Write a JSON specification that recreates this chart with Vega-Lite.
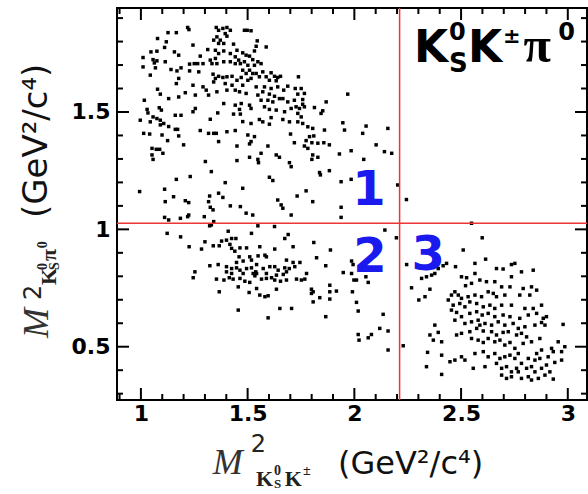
{
"$schema": "https://vega.github.io/schema/vega-lite/v6.json",
"width": 470, "height": 392,
"autosize": "none",
"padding": {"left": 117, "top": 8, "right": 1, "bottom": 94},
"background": "white",
"config": {"view": {"stroke": "black", "strokeWidth": 2}},
"resolve": {"axis": {"x": "independent", "y": "independent"}},
"datasets": {
"xmaj": [{"v":1},{"v":1.5},{"v":2},{"v":2.5},{"v":3}],
"xmin": [{"v":0.9},{"v":1.1},{"v":1.2},{"v":1.3},{"v":1.4},{"v":1.6},{"v":1.7},{"v":1.8},{"v":1.9},{"v":2.1},{"v":2.2},{"v":2.3},{"v":2.4},{"v":2.6},{"v":2.7},{"v":2.8},{"v":2.9}],
"ymaj": [{"v":0.5},{"v":1},{"v":1.5}],
"ymin": [{"v":0.3},{"v":0.4},{"v":0.6},{"v":0.7},{"v":0.8},{"v":0.9},{"v":1.1},{"v":1.2},{"v":1.3},{"v":1.4},{"v":1.6},{"v":1.7},{"v":1.8},{"v":1.9}],
"pts": [
{"x":1.219,"y":1.860},{"x":1.225,"y":1.851},{"x":1.127,"y":1.838},{"x":1.166,"y":1.838},{"x":1.353,"y":1.860},{"x":1.364,"y":1.848},{"x":1.384,"y":1.856},{"x":1.403,"y":1.860},{"x":1.419,"y":1.848},{"x":1.395,"y":1.834},{"x":1.356,"y":1.820},{"x":1.341,"y":1.806},{"x":1.372,"y":1.806},{"x":1.388,"y":1.792},{"x":1.364,"y":1.792},{"x":1.403,"y":1.823},{"x":1.078,"y":1.813},{"x":1.119,"y":1.799},{"x":1.244,"y":1.785},{"x":1.111,"y":1.775},{"x":1.434,"y":1.789},{"x":1.450,"y":1.763},{"x":1.313,"y":1.766},{"x":1.349,"y":1.763},{"x":1.364,"y":1.749},{"x":1.388,"y":1.760},{"x":1.419,"y":1.749},{"x":1.442,"y":1.735},{"x":1.458,"y":1.721},{"x":1.047,"y":1.756},{"x":1.075,"y":1.759},{"x":1.157,"y":1.756},{"x":1.177,"y":1.742},{"x":1.010,"y":1.732},{"x":1.057,"y":1.723},{"x":1.075,"y":1.718},{"x":1.063,"y":1.709},{"x":1.114,"y":1.714},{"x":1.278,"y":1.738},{"x":1.325,"y":1.721},{"x":1.349,"y":1.728},{"x":1.356,"y":1.706},{"x":1.333,"y":1.706},{"x":1.388,"y":1.714},{"x":1.419,"y":1.714},{"x":1.442,"y":1.706},{"x":1.466,"y":1.706},{"x":1.010,"y":1.692},{"x":1.068,"y":1.688},{"x":1.141,"y":1.681},{"x":1.169,"y":1.675},{"x":1.188,"y":1.688},{"x":1.228,"y":1.704},{"x":1.250,"y":1.706},{"x":1.266,"y":1.706},{"x":1.291,"y":1.706},{"x":1.228,"y":1.675},{"x":1.271,"y":1.671},{"x":1.044,"y":1.657},{"x":1.177,"y":1.643},{"x":1.338,"y":1.661},{"x":1.349,"y":1.643},{"x":1.364,"y":1.652},{"x":1.384,"y":1.647},{"x":1.403,"y":1.650},{"x":1.427,"y":1.652},{"x":1.450,"y":1.635},{"x":1.341,"y":1.628},{"x":1.395,"y":1.621},{"x":1.427,"y":1.614},{"x":1.166,"y":1.621},{"x":1.244,"y":1.614},{"x":1.291,"y":1.607},{"x":1.306,"y":1.593},{"x":1.317,"y":1.572},{"x":1.356,"y":1.586},{"x":1.403,"y":1.593},{"x":1.442,"y":1.593},{"x":1.078,"y":1.597},{"x":1.091,"y":1.576},{"x":1.130,"y":1.557},{"x":1.177,"y":1.564},{"x":1.208,"y":1.582},{"x":1.255,"y":1.572},{"x":1.016,"y":1.550},{"x":1.388,"y":1.536},{"x":1.442,"y":1.529},{"x":1.029,"y":1.511},{"x":1.033,"y":1.496},{"x":1.086,"y":1.518},{"x":1.096,"y":1.508},{"x":1.255,"y":1.515},{"x":1.244,"y":1.501},{"x":1.360,"y":1.496},{"x":1.434,"y":1.491},{"x":1.466,"y":1.491},{"x":1.057,"y":1.479},{"x":1.075,"y":1.472},{"x":1.091,"y":1.465},{"x":1.161,"y":1.486},{"x":1.188,"y":1.486},{"x":1.325,"y":1.469},{"x":0.997,"y":1.465},{"x":1.044,"y":1.458},
{"x":1.485,"y":1.848},{"x":1.498,"y":1.848},{"x":1.516,"y":1.846},{"x":1.545,"y":1.803},{"x":1.540,"y":1.780},{"x":1.532,"y":1.760},{"x":1.587,"y":1.777},{"x":1.477,"y":1.752},{"x":1.493,"y":1.742},{"x":1.509,"y":1.738},{"x":1.524,"y":1.723},{"x":1.485,"y":1.714},{"x":1.548,"y":1.714},{"x":1.501,"y":1.699},{"x":1.532,"y":1.699},{"x":1.563,"y":1.706},{"x":1.477,"y":1.678},{"x":1.509,"y":1.678},{"x":1.524,"y":1.664},{"x":1.493,"y":1.664},{"x":1.540,"y":1.664},{"x":1.571,"y":1.671},{"x":1.610,"y":1.667},{"x":1.470,"y":1.647},{"x":1.516,"y":1.643},{"x":1.555,"y":1.650},{"x":1.587,"y":1.650},{"x":1.626,"y":1.652},{"x":1.654,"y":1.652},{"x":1.501,"y":1.635},{"x":1.602,"y":1.635},{"x":1.634,"y":1.633},{"x":1.641,"y":1.647},{"x":1.738,"y":1.650},{"x":1.477,"y":1.614},{"x":1.540,"y":1.607},{"x":1.579,"y":1.607},{"x":1.610,"y":1.600},{"x":1.641,"y":1.607},{"x":1.669,"y":1.593},{"x":1.688,"y":1.610},{"x":1.723,"y":1.600},{"x":1.751,"y":1.600},{"x":1.766,"y":1.579},{"x":1.735,"y":1.576},{"x":1.462,"y":1.586},{"x":1.493,"y":1.579},{"x":1.548,"y":1.572},{"x":1.571,"y":1.586},{"x":1.602,"y":1.576},{"x":1.626,"y":1.567},{"x":1.649,"y":1.557},{"x":1.563,"y":1.550},{"x":1.595,"y":1.550},{"x":1.618,"y":1.543},{"x":1.665,"y":1.557},{"x":1.688,"y":1.543},{"x":1.719,"y":1.550},{"x":1.758,"y":1.553},{"x":1.758,"y":1.533},{"x":1.727,"y":1.522},{"x":1.743,"y":1.515},{"x":1.766,"y":1.522},{"x":1.813,"y":1.519},{"x":1.868,"y":1.543},{"x":1.969,"y":1.576},{"x":1.470,"y":1.536},{"x":1.509,"y":1.529},{"x":1.462,"y":1.511},{"x":1.516,"y":1.515},{"x":1.579,"y":1.522},{"x":1.602,"y":1.511},{"x":1.634,"y":1.508},{"x":1.673,"y":1.501},{"x":1.704,"y":1.515},{"x":1.735,"y":1.494},{"x":1.844,"y":1.494},{"x":1.852,"y":1.505},{"x":1.751,"y":1.479},{"x":1.555,"y":1.468},{"x":1.571,"y":1.458},{"x":1.610,"y":1.476},{"x":1.665,"y":1.468},{"x":1.696,"y":1.458},{"x":1.735,"y":1.458},{"x":1.946,"y":1.454},{"x":1.516,"y":1.451},
{"x":1.091,"y":1.445},{"x":1.107,"y":1.451},{"x":1.130,"y":1.438},{"x":1.161,"y":1.426},{"x":1.172,"y":1.426},{"x":1.278,"y":1.421},{"x":1.317,"y":1.409},{"x":1.341,"y":1.409},{"x":1.353,"y":1.409},{"x":1.403,"y":1.416},{"x":1.442,"y":1.421},{"x":1.013,"y":1.409},{"x":1.041,"y":1.406},{"x":1.099,"y":1.402},{"x":1.177,"y":1.398},{"x":1.125,"y":1.378},{"x":1.200,"y":1.360},{"x":1.364,"y":1.374},{"x":1.450,"y":1.355},{"x":1.052,"y":1.345},{"x":1.072,"y":1.341},{"x":1.088,"y":1.341},{"x":1.052,"y":1.317},{"x":1.057,"y":1.298},{"x":1.103,"y":1.324},{"x":1.302,"y":1.289},{"x":1.450,"y":1.293},{"x":1.330,"y":1.246},{"x":1.231,"y":1.225},{"x":1.166,"y":1.213},{"x":1.395,"y":1.199},{"x":0.994,"y":1.161},{"x":1.111,"y":1.171},{"x":1.364,"y":1.154},{"x":1.384,"y":1.136},{"x":1.322,"y":1.142},{"x":1.153,"y":1.139},{"x":1.114,"y":1.118},{"x":1.208,"y":1.122},{"x":1.224,"y":1.114},{"x":1.317,"y":1.118},{"x":1.325,"y":1.094},{"x":1.338,"y":1.083},{"x":1.419,"y":1.100},{"x":1.466,"y":1.097},{"x":1.224,"y":1.061},{"x":1.219,"y":1.054},{"x":1.185,"y":1.047},{"x":1.297,"y":1.054},{"x":1.111,"y":1.051},{"x":1.130,"y":1.040},{"x":1.341,"y":1.033},{"x":1.330,"y":1.019},{"x":1.322,"y":1.015},
{"x":1.477,"y":1.459},{"x":1.602,"y":1.448},{"x":1.758,"y":1.451},{"x":1.782,"y":1.437},{"x":1.805,"y":1.430},{"x":1.860,"y":1.423},{"x":2.055,"y":1.440},{"x":2.157,"y":1.430},{"x":1.954,"y":1.423},{"x":1.501,"y":1.402},{"x":1.532,"y":1.395},{"x":1.516,"y":1.374},{"x":1.509,"y":1.364},{"x":1.595,"y":1.355},{"x":1.701,"y":1.406},{"x":1.719,"y":1.369},{"x":1.774,"y":1.378},{"x":1.790,"y":1.395},{"x":1.810,"y":1.398},{"x":1.801,"y":1.369},{"x":1.766,"y":1.355},{"x":1.782,"y":1.345},{"x":1.829,"y":1.367},{"x":1.857,"y":1.369},{"x":1.883,"y":1.360},{"x":2.039,"y":1.409},{"x":2.102,"y":1.360},{"x":1.985,"y":1.335},{"x":2.141,"y":1.331},{"x":2.175,"y":1.324},{"x":1.563,"y":1.324},{"x":1.509,"y":1.307},{"x":1.548,"y":1.298},{"x":1.551,"y":1.284},{"x":1.634,"y":1.317},{"x":1.649,"y":1.307},{"x":1.696,"y":1.284},{"x":1.704,"y":1.267},{"x":1.805,"y":1.317},{"x":1.801,"y":1.298},{"x":1.829,"y":1.307},{"x":1.930,"y":1.321},{"x":2.044,"y":1.298},{"x":1.837,"y":1.242},{"x":1.841,"y":1.232},{"x":1.883,"y":1.250},{"x":1.602,"y":1.222},{"x":1.618,"y":1.208},{"x":1.477,"y":1.175},{"x":1.774,"y":1.164},{"x":1.732,"y":1.142},{"x":1.805,"y":1.118},{"x":1.641,"y":1.125},{"x":1.657,"y":1.104},{"x":1.665,"y":1.090},{"x":1.938,"y":1.203},{"x":1.985,"y":1.213},{"x":1.493,"y":1.069},{"x":1.524,"y":1.061},{"x":1.704,"y":1.061},{"x":1.938,"y":1.094},{"x":1.938,"y":1.051},{"x":1.626,"y":1.012},{"x":1.548,"y":1.015},{"x":2.203,"y":1.189},{"x":2.244,"y":1.127},
{"x":1.123,"y":0.983},{"x":1.186,"y":0.968},{"x":1.409,"y":0.992},{"x":1.518,"y":0.983},{"x":1.690,"y":0.978},{"x":1.674,"y":0.961},{"x":2.143,"y":0.997},{"x":2.197,"y":0.964},{"x":1.226,"y":0.926},{"x":1.284,"y":0.916},{"x":1.300,"y":0.947},{"x":1.339,"y":0.930},{"x":1.367,"y":0.930},{"x":1.378,"y":0.950},{"x":1.401,"y":0.954},{"x":1.425,"y":0.961},{"x":1.445,"y":0.961},{"x":1.417,"y":0.936},{"x":1.425,"y":0.919},{"x":1.440,"y":0.907},{"x":1.464,"y":0.921},{"x":1.495,"y":0.921},{"x":1.557,"y":0.926},{"x":1.627,"y":0.916},{"x":1.713,"y":0.926},{"x":1.810,"y":0.944},{"x":1.888,"y":0.912},{"x":1.460,"y":0.883},{"x":1.510,"y":0.883},{"x":1.549,"y":0.887},{"x":1.581,"y":0.890},{"x":1.588,"y":0.883},{"x":1.479,"y":0.865},{"x":1.518,"y":0.869},{"x":1.542,"y":0.850},{"x":1.448,"y":0.859},{"x":1.682,"y":0.869},{"x":1.713,"y":0.859},{"x":1.745,"y":0.859},{"x":1.823,"y":0.879},{"x":1.987,"y":0.865},{"x":1.994,"y":0.850},{"x":1.323,"y":0.845},{"x":1.362,"y":0.850},{"x":1.401,"y":0.841},{"x":1.425,"y":0.833},{"x":1.448,"y":0.836},{"x":1.464,"y":0.826},{"x":1.495,"y":0.833},{"x":1.518,"y":0.836},{"x":1.538,"y":0.819},{"x":1.573,"y":0.833},{"x":1.604,"y":0.841},{"x":1.627,"y":0.841},{"x":1.643,"y":0.826},{"x":1.674,"y":0.836},{"x":1.695,"y":0.833},{"x":1.721,"y":0.841},{"x":1.401,"y":0.819},{"x":1.425,"y":0.812},{"x":1.479,"y":0.812},{"x":1.526,"y":0.812},{"x":1.542,"y":0.812},{"x":1.588,"y":0.812},{"x":1.612,"y":0.794},{"x":1.635,"y":0.805},{"x":1.667,"y":0.808},{"x":1.682,"y":0.819},{"x":1.776,"y":0.812},{"x":1.866,"y":0.845},{"x":1.253,"y":0.819},{"x":1.245,"y":0.794},{"x":1.354,"y":0.788},{"x":1.389,"y":0.784},{"x":1.414,"y":0.794},{"x":1.432,"y":0.788},{"x":1.464,"y":0.791},{"x":1.487,"y":0.779},{"x":1.510,"y":0.774},{"x":1.534,"y":0.802},{"x":1.565,"y":0.788},{"x":1.588,"y":0.791},{"x":1.627,"y":0.784},{"x":1.654,"y":0.779},{"x":1.682,"y":0.784},{"x":1.729,"y":0.788},{"x":1.752,"y":0.784},{"x":1.768,"y":0.788},{"x":1.885,"y":0.762},{"x":1.948,"y":0.816},{"x":1.987,"y":0.812},{"x":1.998,"y":0.784},{"x":2.010,"y":0.784},{"x":2.054,"y":0.798},{"x":2.065,"y":0.774},{"x":1.367,"y":0.734},{"x":1.456,"y":0.755},{"x":1.507,"y":0.731},{"x":1.542,"y":0.748},{"x":1.557,"y":0.720},{"x":1.581,"y":0.713},{"x":1.596,"y":0.717},{"x":1.635,"y":0.745},{"x":1.799,"y":0.745},{"x":1.807,"y":0.734},{"x":1.799,"y":0.727},{"x":1.838,"y":0.709},{"x":1.807,"y":0.691},{"x":1.885,"y":0.734},{"x":1.885,"y":0.703},{"x":1.916,"y":0.737},{"x":1.991,"y":0.734},{"x":1.456,"y":0.656},{"x":1.651,"y":0.663},{"x":1.706,"y":0.663},{"x":1.596,"y":0.623},{"x":1.866,"y":0.628},{"x":2.010,"y":0.689},{"x":2.018,"y":0.652},{"x":2.135,"y":0.638},{"x":2.018,"y":0.552},{"x":2.022,"y":0.528},{"x":2.065,"y":0.538},{"x":2.080,"y":0.552},{"x":2.119,"y":0.578},{"x":2.158,"y":0.567},{"x":2.158,"y":0.486},
{"x":2.599,"y":0.964},{"x":2.510,"y":0.912},{"x":2.615,"y":0.873},{"x":2.565,"y":0.855},{"x":2.245,"y":0.850},{"x":2.432,"y":0.855},{"x":2.416,"y":0.845},{"x":2.393,"y":0.833},{"x":2.377,"y":0.812},{"x":2.362,"y":0.805},{"x":2.338,"y":0.798},{"x":2.315,"y":0.791},{"x":2.474,"y":0.841},{"x":2.666,"y":0.833},{"x":2.697,"y":0.831},{"x":2.736,"y":0.850},{"x":2.752,"y":0.855},{"x":2.783,"y":0.819},{"x":2.838,"y":0.826},{"x":2.502,"y":0.798},{"x":2.526,"y":0.794},{"x":2.565,"y":0.812},{"x":2.588,"y":0.784},{"x":2.619,"y":0.777},{"x":2.549,"y":0.770},{"x":2.521,"y":0.760},{"x":2.658,"y":0.777},{"x":2.690,"y":0.755},{"x":2.729,"y":0.755},{"x":2.736,"y":0.798},{"x":2.791,"y":0.748},{"x":2.830,"y":0.755},{"x":2.854,"y":0.741},{"x":2.354,"y":0.745},{"x":2.268,"y":0.751},{"x":2.331,"y":0.713},{"x":2.302,"y":0.699},{"x":2.471,"y":0.734},{"x":2.455,"y":0.720},{"x":2.487,"y":0.720},{"x":2.502,"y":0.706},{"x":2.533,"y":0.713},{"x":2.565,"y":0.720},{"x":2.596,"y":0.713},{"x":2.627,"y":0.734},{"x":2.651,"y":0.727},{"x":2.666,"y":0.713},{"x":2.705,"y":0.720},{"x":2.775,"y":0.720},{"x":2.822,"y":0.720},{"x":2.440,"y":0.699},{"x":2.463,"y":0.677},{"x":2.494,"y":0.684},{"x":2.518,"y":0.670},{"x":2.541,"y":0.691},{"x":2.573,"y":0.684},{"x":2.604,"y":0.670},{"x":2.635,"y":0.677},{"x":2.658,"y":0.663},{"x":2.690,"y":0.677},{"x":2.736,"y":0.677},{"x":2.799,"y":0.663},{"x":2.838,"y":0.663},{"x":2.877,"y":0.677},{"x":2.900,"y":0.628},{"x":2.455,"y":0.656},{"x":2.479,"y":0.646},{"x":2.502,"y":0.628},{"x":2.541,"y":0.642},{"x":2.573,"y":0.649},{"x":2.599,"y":0.635},{"x":2.627,"y":0.642},{"x":2.658,"y":0.628},{"x":2.697,"y":0.635},{"x":2.729,"y":0.628},{"x":2.775,"y":0.621},{"x":2.815,"y":0.635},{"x":2.854,"y":0.642},{"x":2.885,"y":0.621},{"x":2.978,"y":0.595},{"x":2.471,"y":0.613},{"x":2.518,"y":0.599},{"x":2.549,"y":0.606},{"x":2.580,"y":0.613},{"x":2.588,"y":0.592},{"x":2.612,"y":0.599},{"x":2.643,"y":0.592},{"x":2.674,"y":0.606},{"x":2.705,"y":0.592},{"x":2.744,"y":0.599},{"x":2.768,"y":0.578},{"x":2.799,"y":0.585},{"x":2.846,"y":0.592},{"x":2.877,"y":0.603},{"x":2.893,"y":0.592},{"x":2.377,"y":0.592},{"x":2.393,"y":0.561},{"x":2.354,"y":0.550},{"x":2.479,"y":0.550},{"x":2.502,"y":0.557},{"x":2.541,"y":0.564},{"x":2.573,"y":0.578},{"x":2.604,"y":0.567},{"x":2.643,"y":0.564},{"x":2.666,"y":0.550},{"x":2.697,"y":0.561},{"x":2.721,"y":0.564},{"x":2.760,"y":0.550},{"x":2.783,"y":0.557},{"x":2.807,"y":0.542},{"x":2.830,"y":0.521},{"x":2.869,"y":0.535},{"x":2.955,"y":0.521},{"x":2.986,"y":0.500},{"x":2.971,"y":0.479},{"x":2.370,"y":0.528},{"x":2.409,"y":0.521},{"x":2.549,"y":0.535},{"x":2.580,"y":0.528},{"x":2.604,"y":0.518},{"x":2.627,"y":0.535},{"x":2.658,"y":0.521},{"x":2.682,"y":0.528},{"x":2.705,"y":0.507},{"x":2.729,"y":0.518},{"x":2.752,"y":0.493},{"x":2.791,"y":0.514},{"x":2.924,"y":0.493},{"x":2.932,"y":0.479},{"x":2.877,"y":0.486},{"x":2.854,"y":0.471},{"x":2.229,"y":0.504},{"x":2.343,"y":0.476},{"x":2.409,"y":0.464},{"x":2.448,"y":0.436},{"x":2.471,"y":0.443},{"x":2.502,"y":0.457},{"x":2.518,"y":0.443},{"x":2.565,"y":0.471},{"x":2.604,"y":0.479},{"x":2.627,"y":0.457},{"x":2.658,"y":0.471},{"x":2.682,"y":0.450},{"x":2.705,"y":0.457},{"x":2.729,"y":0.464},{"x":2.752,"y":0.450},{"x":2.768,"y":0.471},{"x":2.815,"y":0.450},{"x":2.846,"y":0.443},{"x":2.869,"y":0.450},{"x":2.908,"y":0.457},{"x":2.338,"y":0.415},{"x":2.409,"y":0.382},{"x":2.557,"y":0.408},{"x":2.612,"y":0.415},{"x":2.666,"y":0.429},{"x":2.690,"y":0.408},{"x":2.713,"y":0.415},{"x":2.736,"y":0.393},{"x":2.760,"y":0.408},{"x":2.783,"y":0.429},{"x":2.807,"y":0.408},{"x":2.830,"y":0.415},{"x":2.846,"y":0.393},{"x":2.877,"y":0.408},{"x":2.900,"y":0.422},{"x":2.916,"y":0.393},{"x":2.939,"y":0.433},{"x":2.971,"y":0.443},{"x":2.690,"y":0.379},{"x":2.713,"y":0.365},{"x":2.736,"y":0.372},{"x":2.768,"y":0.393},{"x":2.783,"y":0.365},{"x":2.815,"y":0.372},{"x":2.830,"y":0.358},{"x":2.862,"y":0.365},{"x":2.893,"y":0.379},{"x":2.932,"y":0.362},{"x":2.549,"y":1.026}
]},
"layer": [
{"data": {"name": "pts"},
 "mark": {"type": "square", "size": 12, "color": "black", "opacity": 1},
 "encoding": {
  "x": {"field": "x", "type": "quantitative", "scale": {"domain": [0.888, 3.09], "nice": false, "zero": false},
   "axis": {"orient": "bottom", "title": null, "domain": false, "grid": false, "ticks": false,
    "values": [1, 1.5, 2, 2.5, 3], "format": "~g",
    "labelFont": "DejaVu Sans", "labelFontWeight": "bold", "labelFontSize": 22, "labelColor": "black",
    "labelPadding": 3, "labelFlush": false, "labelOverlap": false}},
  "y": {"field": "y", "type": "quantitative", "scale": {"domain": [0.273, 1.943], "nice": false, "zero": false},
   "axis": {"orient": "left", "title": null, "domain": false, "grid": false, "ticks": false,
    "values": [0.5, 1, 1.5], "format": "~g",
    "labelFont": "DejaVu Sans", "labelFontWeight": "bold", "labelFontSize": 22, "labelColor": "black",
    "labelPadding": 7, "labelFlush": false, "labelOverlap": false}}
 }},
{"data": {"name": "xmaj"}, "mark": {"type": "rule", "color": "black", "strokeWidth": 2},
 "encoding": {"x": {"field": "v", "type": "quantitative", "axis": null}, "y": {"datum": 0.273, "axis": null}, "y2": {"datum": 0.3241}}},
{"data": {"name": "xmaj"}, "mark": {"type": "rule", "color": "black", "strokeWidth": 2},
 "encoding": {"x": {"field": "v", "type": "quantitative", "axis": null}, "y": {"datum": 1.943, "axis": null}, "y2": {"datum": 1.8919}}},
{"data": {"name": "xmin"}, "mark": {"type": "rule", "color": "black", "strokeWidth": 2},
 "encoding": {"x": {"field": "v", "type": "quantitative", "axis": null}, "y": {"datum": 0.273, "axis": null}, "y2": {"datum": 0.2986}}},
{"data": {"name": "xmin"}, "mark": {"type": "rule", "color": "black", "strokeWidth": 2},
 "encoding": {"x": {"field": "v", "type": "quantitative", "axis": null}, "y": {"datum": 1.943, "axis": null}, "y2": {"datum": 1.9174}}},
{"data": {"name": "ymaj"}, "mark": {"type": "rule", "color": "black", "strokeWidth": 2},
 "encoding": {"y": {"field": "v", "type": "quantitative", "axis": null}, "x": {"datum": 0.888, "axis": null}, "x2": {"datum": 0.9442}}},
{"data": {"name": "ymaj"}, "mark": {"type": "rule", "color": "black", "strokeWidth": 2},
 "encoding": {"y": {"field": "v", "type": "quantitative", "axis": null}, "x": {"datum": 3.09, "axis": null}, "x2": {"datum": 3.0338}}},
{"data": {"name": "ymin"}, "mark": {"type": "rule", "color": "black", "strokeWidth": 2},
 "encoding": {"y": {"field": "v", "type": "quantitative", "axis": null}, "x": {"datum": 0.888, "axis": null}, "x2": {"datum": 0.9161}}},
{"data": {"name": "ymin"}, "mark": {"type": "rule", "color": "black", "strokeWidth": 2},
 "encoding": {"y": {"field": "v", "type": "quantitative", "axis": null}, "x": {"datum": 3.09, "axis": null}, "x2": {"datum": 3.0619}}},
{"data": {"values": [{}]}, "mark": {"type": "rule", "color": "#ee3535", "strokeWidth": 1.5},
 "encoding": {"x": {"datum": 2.212, "axis": null}}},
{"data": {"values": [{}]}, "mark": {"type": "rule", "color": "#ee3535", "strokeWidth": 1.5},
 "encoding": {"y": {"datum": 1.026, "axis": null}}},
{"data": {"values": [{}]}, "mark": {"type": "text", "text": "1", "font": "DejaVu Sans", "fontWeight": "bold", "fontSize": 48, "color": "#1a1aee", "align": "center", "baseline": "alphabetic"},
 "encoding": {"x": {"datum": 2.068, "axis": null}, "y": {"datum": 1.1035, "axis": null}}},
{"data": {"values": [{}]}, "mark": {"type": "text", "text": "2", "font": "DejaVu Sans", "fontWeight": "bold", "fontSize": 48, "color": "#1a1aee", "align": "center", "baseline": "alphabetic"},
 "encoding": {"x": {"datum": 2.073, "axis": null}, "y": {"datum": 0.819, "axis": null}}},
{"data": {"values": [{}]}, "mark": {"type": "text", "text": "3", "font": "DejaVu Sans", "fontWeight": "bold", "fontSize": 48, "color": "#1a1aee", "align": "center", "baseline": "alphabetic"},
 "encoding": {"x": {"datum": 2.346, "axis": null}, "y": {"datum": 0.826, "axis": null}}},
{"data": {"values": [{}]}, "mark": {"type": "text", "text": "K", "font": "DejaVu Sans", "fontWeight": "bold", "fontSize": 44, "color": "black", "align": "left", "baseline": "alphabetic"},
 "encoding": {"x": {"datum": 2.279, "axis": null}, "y": {"datum": 1.7125, "axis": null}}},
{"data": {"values": [{}]}, "mark": {"type": "text", "text": "0", "font": "DejaVu Sans", "fontWeight": "bold", "fontSize": 24, "color": "black", "align": "left", "baseline": "alphabetic"},
 "encoding": {"x": {"datum": 2.443, "axis": null}, "y": {"datum": 1.806, "axis": null}}},
{"data": {"values": [{}]}, "mark": {"type": "text", "text": "S", "font": "DejaVu Sans", "fontWeight": "bold", "fontSize": 26, "color": "black", "align": "left", "baseline": "alphabetic"},
 "encoding": {"x": {"datum": 2.443, "axis": null}, "y": {"datum": 1.670, "axis": null}}},
{"data": {"values": [{}]}, "mark": {"type": "text", "text": "K", "font": "DejaVu Sans", "fontWeight": "bold", "fontSize": 44, "color": "black", "align": "left", "baseline": "alphabetic"},
 "encoding": {"x": {"datum": 2.532, "axis": null}, "y": {"datum": 1.7125, "axis": null}}},
{"data": {"values": [{}]}, "mark": {"type": "text", "text": "±", "font": "DejaVu Sans", "fontWeight": "bold", "fontSize": 21, "color": "black", "align": "left", "baseline": "alphabetic"},
 "encoding": {"x": {"datum": 2.696, "axis": null}, "y": {"datum": 1.795, "axis": null}}},
{"data": {"values": [{}]}, "mark": {"type": "text", "text": "π", "font": "Liberation Serif", "fontWeight": "bold", "fontSize": 50, "color": "black", "align": "left", "baseline": "alphabetic"},
 "encoding": {"x": {"datum": 2.792, "axis": null}, "y": {"datum": 1.7125, "axis": null}}},
{"data": {"values": [{}]}, "mark": {"type": "text", "text": "0", "font": "DejaVu Sans", "fontWeight": "bold", "fontSize": 24, "color": "black", "align": "left", "baseline": "alphabetic"},
 "encoding": {"x": {"datum": 2.955, "axis": null}, "y": {"datum": 1.806, "axis": null}}},
{"data": {"values": [{}]}, "mark": {"type": "text", "text": "M", "font": "Liberation Serif", "fontStyle": "italic", "fontSize": 36, "color": "#333333", "align": "left", "baseline": "alphabetic"},
 "encoding": {"x": {"datum": 1.337, "axis": null}, "y": {"datum": -0.042, "axis": null}}},
{"data": {"values": [{}]}, "mark": {"type": "text", "text": "2", "font": "DejaVu Sans", "fontSize": 24, "color": "#222222", "align": "left", "baseline": "alphabetic"},
 "encoding": {"x": {"datum": 1.515, "axis": null}, "y": {"datum": 0.052, "axis": null}}},
{"data": {"values": [{}]}, "mark": {"type": "text", "text": "K", "font": "Liberation Serif", "fontWeight": "bold", "fontSize": 22, "color": "#222222", "align": "left", "baseline": "alphabetic"},
 "encoding": {"x": {"datum": 1.539, "axis": null}, "y": {"datum": -0.093, "axis": null}}},
{"data": {"values": [{}]}, "mark": {"type": "text", "text": "0", "font": "Liberation Serif", "fontWeight": "bold", "fontSize": 14, "color": "#222222", "align": "left", "baseline": "alphabetic"},
 "encoding": {"x": {"datum": 1.623, "axis": null}, "y": {"datum": -0.046, "axis": null}}},
{"data": {"values": [{}]}, "mark": {"type": "text", "text": "S", "font": "Liberation Serif", "fontWeight": "bold", "fontSize": 13, "color": "#222222", "align": "left", "baseline": "alphabetic"},
 "encoding": {"x": {"datum": 1.623, "axis": null}, "y": {"datum": -0.104, "axis": null}}},
{"data": {"values": [{}]}, "mark": {"type": "text", "text": "K", "font": "Liberation Serif", "fontWeight": "bold", "fontSize": 22, "color": "#222222", "align": "left", "baseline": "alphabetic"},
 "encoding": {"x": {"datum": 1.674, "axis": null}, "y": {"datum": -0.093, "axis": null}}},
{"data": {"values": [{}]}, "mark": {"type": "text", "text": "±", "font": "Liberation Serif", "fontWeight": "bold", "fontSize": 14, "color": "#222222", "align": "left", "baseline": "alphabetic"},
 "encoding": {"x": {"datum": 1.759, "axis": null}, "y": {"datum": -0.046, "axis": null}}},
{"data": {"values": [{}]}, "mark": {"type": "text", "text": "(GeV²/c⁴)", "font": "DejaVu Sans", "fontSize": 32, "color": "#111111", "align": "left", "baseline": "alphabetic"},
 "encoding": {"x": {"datum": 1.923, "axis": null}, "y": {"datum": -0.042, "axis": null}}},
{"data": {"values": [{}]}, "mark": {"type": "text", "text": "M", "font": "Liberation Serif", "fontStyle": "italic", "fontSize": 36, "color": "#333333", "align": "left", "baseline": "alphabetic", "angle": 270},
 "encoding": {"x": {"datum": 0.564, "axis": null}, "y": {"datum": 0.537, "axis": null}}},
{"data": {"values": [{}]}, "mark": {"type": "text", "text": "2", "font": "DejaVu Sans", "fontSize": 24, "color": "#222222", "align": "left", "baseline": "alphabetic", "angle": 270},
 "encoding": {"x": {"datum": 0.532, "axis": null}, "y": {"datum": 0.699, "axis": null}}},
{"data": {"values": [{}]}, "mark": {"type": "text", "text": "K", "font": "Liberation Serif", "fontWeight": "bold", "fontSize": 22, "color": "#222222", "align": "left", "baseline": "alphabetic", "angle": 270},
 "encoding": {"x": {"datum": 0.602, "axis": null}, "y": {"datum": 0.763, "axis": null}}},
{"data": {"values": [{}]}, "mark": {"type": "text", "text": "0", "font": "Liberation Serif", "fontWeight": "bold", "fontSize": 14, "color": "#222222", "align": "left", "baseline": "alphabetic", "angle": 270},
 "encoding": {"x": {"datum": 0.560, "axis": null}, "y": {"datum": 0.827, "axis": null}}},
{"data": {"values": [{}]}, "mark": {"type": "text", "text": "S", "font": "Liberation Serif", "fontWeight": "bold", "fontSize": 14, "color": "#222222", "align": "left", "baseline": "alphabetic", "angle": 270},
 "encoding": {"x": {"datum": 0.616, "axis": null}, "y": {"datum": 0.827, "axis": null}}},
{"data": {"values": [{}]}, "mark": {"type": "text", "text": "π", "font": "Liberation Serif", "fontWeight": "bold", "fontSize": 22, "color": "#222222", "align": "left", "baseline": "alphabetic", "angle": 270},
 "encoding": {"x": {"datum": 0.602, "axis": null}, "y": {"datum": 0.865, "axis": null}}},
{"data": {"values": [{}]}, "mark": {"type": "text", "text": "0", "font": "Liberation Serif", "fontWeight": "bold", "fontSize": 14, "color": "#222222", "align": "left", "baseline": "alphabetic", "angle": 270},
 "encoding": {"x": {"datum": 0.560, "axis": null}, "y": {"datum": 0.920, "axis": null}}},
{"data": {"values": [{}]}, "mark": {"type": "text", "text": "(GeV²/c⁴)", "font": "DejaVu Sans", "fontSize": 34, "color": "#111111", "align": "left", "baseline": "alphabetic", "angle": 270},
 "encoding": {"x": {"datum": 0.560, "axis": null}, "y": {"datum": 1.048, "axis": null}}}
]
}
